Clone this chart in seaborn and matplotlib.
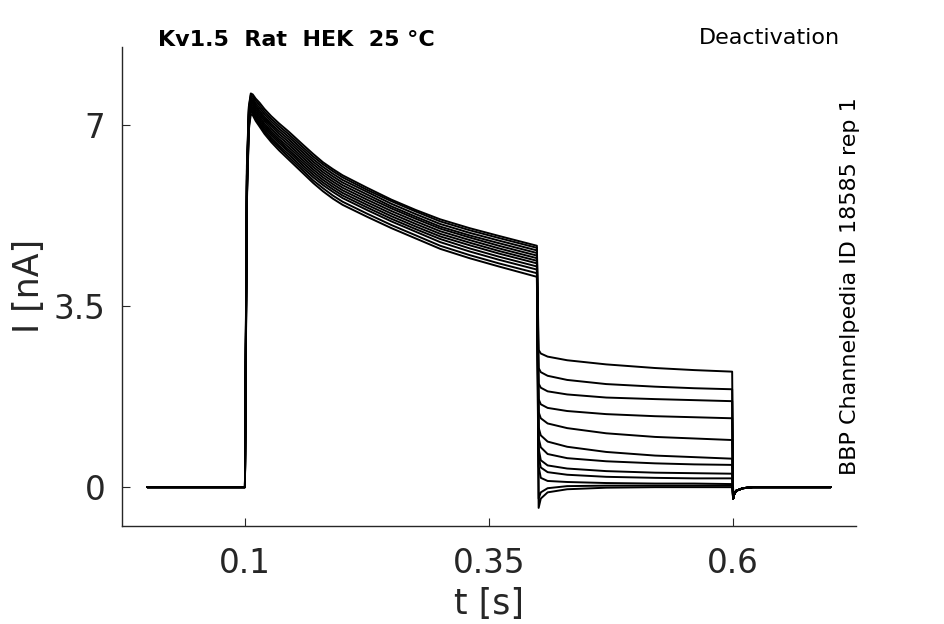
import numpy as np
import pandas as pd
import seaborn as sns
import matplotlib.pyplot as plt

# baseline before the step
t_pre = [0.0, 0.05, 0.0995]
# activating step (same step for every sweep)
t_step = [0.1, 0.1008, 0.102, 0.104, 0.106, 0.108, 0.111, 0.115, 0.12, 0.127, 0.135,
          0.145, 0.16, 0.17, 0.18, 0.19, 0.2, 0.225, 0.25, 0.275, 0.3, 0.33, 0.36, 0.399]
step_vals = [
    [0, 2.6, 6.2, 7.35, 7.60, 7.58, 7.50, 7.42, 7.30, 7.16, 7.02, 6.86, 6.60, 6.43, 6.27, 6.14, 6.02, 5.78, 5.55, 5.35, 5.17, 5.00, 4.85, 4.66],
    [0, 2.5, 6.1, 7.32, 7.57, 7.54, 7.46, 7.37, 7.25, 7.11, 6.97, 6.81, 6.55, 6.38, 6.23, 6.10, 5.98, 5.74, 5.52, 5.32, 5.13, 4.96, 4.81, 4.62],
    [0, 2.5, 6.0, 7.28, 7.53, 7.50, 7.41, 7.32, 7.20, 7.06, 6.92, 6.76, 6.50, 6.33, 6.18, 6.05, 5.93, 5.70, 5.47, 5.27, 5.08, 4.91, 4.76, 4.57],
    [0, 2.4, 6.0, 7.24, 7.50, 7.46, 7.37, 7.27, 7.15, 7.01, 6.87, 6.71, 6.45, 6.28, 6.13, 6.00, 5.88, 5.65, 5.42, 5.22, 5.03, 4.86, 4.71, 4.52],
    [0, 2.4, 5.9, 7.20, 7.46, 7.43, 7.33, 7.23, 7.11, 6.97, 6.82, 6.66, 6.40, 6.23, 6.08, 5.95, 5.83, 5.60, 5.38, 5.18, 4.99, 4.82, 4.66, 4.47],
    [0, 2.3, 5.9, 7.16, 7.43, 7.40, 7.29, 7.19, 7.07, 6.92, 6.77, 6.61, 6.35, 6.18, 6.03, 5.90, 5.78, 5.55, 5.33, 5.13, 4.94, 4.77, 4.61, 4.42],
    [0, 2.3, 5.8, 7.12, 7.40, 7.36, 7.25, 7.15, 7.02, 6.87, 6.72, 6.56, 6.30, 6.13, 5.98, 5.85, 5.73, 5.50, 5.28, 5.08, 4.89, 4.72, 4.56, 4.37],
    [0, 2.2, 5.8, 7.08, 7.36, 7.32, 7.21, 7.11, 6.98, 6.83, 6.68, 6.51, 6.25, 6.08, 5.93, 5.80, 5.68, 5.45, 5.23, 5.03, 4.84, 4.67, 4.51, 4.32],
    [0, 2.2, 5.7, 7.04, 7.33, 7.29, 7.17, 7.07, 6.94, 6.79, 6.64, 6.47, 6.20, 6.03, 5.88, 5.75, 5.63, 5.40, 5.18, 4.98, 4.79, 4.61, 4.45, 4.26],
    [0, 2.1, 5.6, 7.00, 7.29, 7.25, 7.13, 7.03, 6.90, 6.74, 6.59, 6.42, 6.15, 5.98, 5.83, 5.70, 5.58, 5.35, 5.13, 4.93, 4.73, 4.55, 4.39, 4.20],
    [0, 2.1, 5.6, 6.96, 7.25, 7.22, 7.10, 7.00, 6.86, 6.70, 6.55, 6.37, 6.10, 5.92, 5.77, 5.63, 5.51, 5.28, 5.06, 4.86, 4.66, 4.48, 4.32, 4.13],
    [0, 2.0, 5.5, 6.90, 7.20, 7.18, 7.07, 6.96, 6.82, 6.66, 6.50, 6.32, 6.05, 5.87, 5.71, 5.57, 5.45, 5.22, 5.00, 4.80, 4.60, 4.42, 4.26, 4.06],
]
# deactivating tails
t_tail = [0.4008, 0.403, 0.41, 0.43, 0.47, 0.52, 0.56, 0.599]
tail_vals = [
    [2.65, 2.58, 2.52, 2.45, 2.37, 2.30, 2.26, 2.23],
    [2.30, 2.22, 2.15, 2.07, 1.99, 1.94, 1.91, 1.89],
    [2.00, 1.92, 1.85, 1.79, 1.73, 1.70, 1.68, 1.66],
    [1.70, 1.60, 1.53, 1.47, 1.41, 1.37, 1.35, 1.33],
    [1.45, 1.33, 1.23, 1.14, 1.04, 0.97, 0.94, 0.91],
    [1.15, 1.00, 0.88, 0.78, 0.68, 0.61, 0.58, 0.55],
    [0.95, 0.77, 0.64, 0.56, 0.50, 0.46, 0.44, 0.43],
    [0.75, 0.52, 0.42, 0.36, 0.31, 0.28, 0.27, 0.26],
    [0.60, 0.38, 0.29, 0.24, 0.20, 0.18, 0.17, 0.17],
    [0.40, 0.18, 0.12, 0.10, 0.08, 0.07, 0.07, 0.06],
    [-0.22, -0.10, -0.02, 0.02, 0.03, 0.03, 0.03, 0.03],
    [-0.40, -0.22, -0.10, -0.04, -0.01, 0.0, 0.0, 0.0],
]
# back to holding potential
t_post = [0.6, 0.6008, 0.603, 0.61, 0.62, 0.7]
post_vals = [-0.22, -0.15, -0.07, -0.02, 0.0, 0.0]

rows = []
for k in range(len(step_vals)):
    t = t_pre + t_step + t_tail + t_post
    v = [0.0] * len(t_pre) + step_vals[k] + tail_vals[k] + post_vals
    rows.append(pd.DataFrame({"t": t, "I": v, "sweep": k}))
df = pd.concat(rows, ignore_index=True)

sns.set_style("ticks")
plt.rcParams["font.family"] = ["DejaVu Sans"]

fig = plt.figure(figsize=(9.45, 6.24), dpi=100)
ax = fig.add_axes([0.129, 0.157, 0.777, 0.768])
sns.lineplot(data=df, x="t", y="I", units="sweep", estimator=None,
             color="black", lw=1.4, ax=ax, legend=False)

ax.set_xlim(-0.026, 0.726)
ax.set_ylim(-0.75, 8.5)
ax.set_xticks([0.1, 0.35, 0.6])
ax.set_xticklabels(["0.1", "0.35", "0.6"])
ax.set_yticks([0, 3.5, 7])
ax.set_yticklabels(["0", "3.5", "7"])
ax.tick_params(direction="in", length=6, labelsize=23.5, colors="#262626")
ax.tick_params(axis="x", pad=15)
ax.tick_params(axis="y", pad=12)
ax.set_xlabel("t [s]", fontsize=25, color="#262626")
ax.set_ylabel("I [nA]", fontsize=25, color="#262626")
ax.xaxis.set_label_coords(0.5, -0.127)
ax.yaxis.set_label_coords(-0.104, 0.5)
sns.despine(ax=ax)
for s in ["left", "bottom"]:
    ax.spines[s].set_color("#262626")
    ax.spines[s].set_linewidth(1.0)

ax.text(0.049, 1.015, "Kv1.5  Rat  HEK  25 °C", transform=ax.transAxes,
        fontsize=16, fontweight="bold", va="center", ha="left", color="black")
ax.text(0.978, 1.018, "Deactivation", transform=ax.transAxes,
        fontsize=16, va="center", ha="right", color="black")
ax.text(0.992, 0.5, "BBP Channelpedia ID 18585 rep 1", transform=ax.transAxes,
        fontsize=16, rotation=90, va="center", ha="center", color="black")

fig.savefig("out.png", dpi=100)
